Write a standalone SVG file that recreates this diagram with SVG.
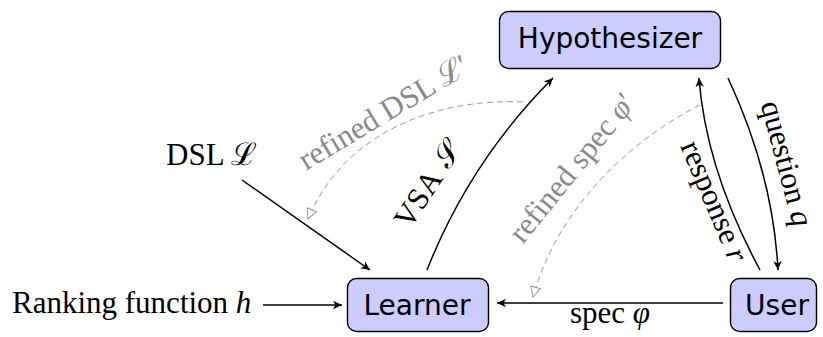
<svg xmlns="http://www.w3.org/2000/svg" width="823" height="337" viewBox="0 0 823 337">
  <style>
    .box { fill: #ccccff; stroke: #000; stroke-width: 1.4; }
    .lbl { font-family: "DejaVu Sans", "Noto Sans", sans-serif; font-size: 28px; fill: #000; text-anchor: middle; }
    .math { font-family: "Liberation Serif", "DejaVu Serif", serif; font-size: 31px; fill: #000; }
    .gray { fill: #8a8a8a; }
    .edge { fill: none; stroke: #000; stroke-width: 1.5; }
    .dash { fill: none; stroke: #9a9a9a; stroke-width: 1; stroke-dasharray: 6 4; }
  </style>
  <defs>
    <marker id="arrow" markerUnits="userSpaceOnUse" markerWidth="14" markerHeight="12" refX="0" refY="0" viewBox="-11 -6 12 12" orient="auto" overflow="visible">
      <path d="M0,0 L-9,-4.2 L-6.5,0 L-9,4.2 Z" fill="#000"/>
    </marker>
    <marker id="open" markerUnits="userSpaceOnUse" markerWidth="14" markerHeight="12" refX="0" refY="0" viewBox="-11 -6 12 12" orient="auto" overflow="visible">
      <path d="M0,0 L-10,-5 L-10,5 Z" fill="#fff" stroke="#9a9a9a" stroke-width="1"/>
    </marker>
  </defs>

  <!-- connectors -->
  <g id="edges">
    <path class="edge" d="M263,305 L342,305" marker-end="url(#arrow)"/>
    <path class="edge" d="M242,180 L370,270" marker-end="url(#arrow)"/>
    <path class="edge" d="M427,270 Q470,161 553,78" marker-end="url(#arrow)"/>
    <path class="edge" d="M728,78 Q773,174 778,270" marker-end="url(#arrow)"/>
    <path class="edge" d="M760,270 Q706,170 699,78" marker-end="url(#arrow)"/>
    <path class="edge" d="M723,303 L497,303" marker-end="url(#arrow)"/>
    <path class="dash" d="M523,102 C440,98 345,130 308,219" marker-end="url(#open)"/>
    <path class="dash" d="M700,105 C640,135 560,200 533,297" marker-end="url(#open)"/>

    <!-- edge labels -->
    <text class="math" x="12" y="313">Ranking function <tspan font-style="italic">h</tspan></text>
    <text class="math" x="166" y="165">DSL ℒ</text>
    <text class="math" text-anchor="middle" transform="translate(436,190) rotate(-57)">VSA <tspan dx="4">𝒮</tspan></text>
    <text class="math gray" text-anchor="middle" transform="translate(389,121) rotate(-31)">refined DSL ℒ′</text>
    <text class="math gray" text-anchor="middle" transform="translate(580,174) rotate(-51)">refined spec <tspan font-style="italic">φ</tspan>′</text>
    <text class="math" text-anchor="middle" transform="translate(705,205) rotate(67)">response <tspan font-style="italic">r</tspan></text>
    <text class="math" text-anchor="middle" transform="translate(777,166) rotate(75)">question <tspan font-style="italic">q</tspan></text>
    <text class="math" text-anchor="middle" x="610" y="323">spec <tspan font-style="italic">φ</tspan></text>
  </g>

  <g id="hypothesizer">
    <rect class="box" x="499.5" y="11.5" width="221" height="57" rx="9"/>
    <text class="lbl" x="610" y="48">Hypothesizer</text>
  </g>
  <g id="learner">
    <rect class="box" x="347.5" y="278.5" width="141" height="53" rx="9"/>
    <text class="lbl" x="417" y="315">Learner</text>
  </g>
  <g id="user">
    <rect class="box" x="730.5" y="278.5" width="86" height="53" rx="9"/>
    <text class="lbl" x="777" y="315">User</text>
  </g>
</svg>
